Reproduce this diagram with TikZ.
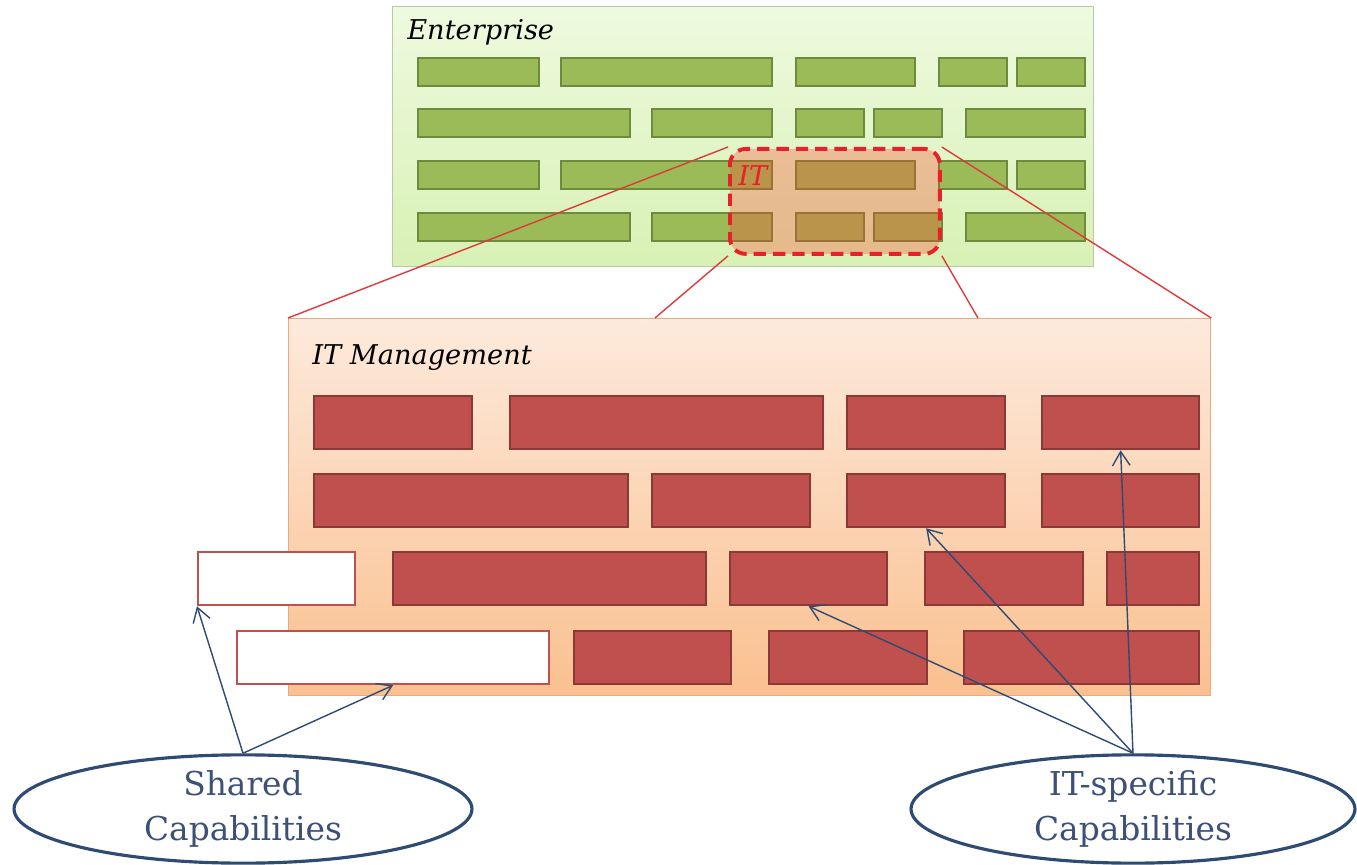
\documentclass[tikz,border=0pt]{standalone}
\usepackage{fontspec}
\setmainfont{DejaVu Serif}
\usepackage{tikz}
\usetikzlibrary{shapes.geometric,arrows.meta}

\definecolor{barGreen}{HTML}{9BBB59}
\definecolor{barGreenLine}{HTML}{6E8B3D}
\definecolor{barRed}{HTML}{C0504D}
\definecolor{barRedLine}{HTML}{8C3836}
\definecolor{entTop}{HTML}{EEFADF}
\definecolor{entBot}{HTML}{D8F1B5}
\definecolor{entLine}{HTML}{B8C8A8}
\definecolor{mgmtTop}{HTML}{FDEADC}
\definecolor{mgmtBot}{HTML}{FAC08F}
\definecolor{mgmtLine}{HTML}{EBA883}
\definecolor{zoomRed}{HTML}{E8202A}
\definecolor{zoomFill}{HTML}{FF3C28}
\definecolor{zoomLine}{HTML}{DD3B3B}
\definecolor{ellLine}{HTML}{2E4B74}
\definecolor{ellText}{HTML}{3C5078}

\begin{document}
\begin{tikzpicture}[x=0.02cm,y=-0.02cm,
    greenbar/.style={draw=barGreenLine, fill=barGreen, line width=1.1pt, inner sep=0pt, anchor=north west, minimum height=0.56cm},
    redbar/.style={draw=barRedLine, fill=barRed, line width=1.3pt, inner sep=0pt, anchor=north west, minimum height=1.06cm},
    sharedbar/.style={redbar, fill=white, draw=barRed},
    capell/.style={ellipse, draw=ellLine, line width=1.8pt, fill=white, inner sep=0pt, align=center, text=ellText, font=\fontsize{18.7}{25.5}\selectfont},
    capArrow/.style={draw=ellLine, line width=0.8pt, -{Straight Barb[length=8pt,width=10pt]}},
    zoomline/.style={draw=zoomLine, line width=0.8pt},
    layerlabel/.style={anchor=west, inner sep=0pt, font=\fontsize{15.5}{17}\selectfont\itshape}]

\useasboundingbox (0,0) rectangle (1357,865);

% Enterprise layer
\node[draw=entLine, line width=0.8pt, top color=entTop, bottom color=entBot, anchor=north west,
      minimum width=14.02cm, minimum height=5.2cm, inner sep=0pt] (ent) at (392,6) {};
\node[layerlabel] (entlabel) at (407,32) {Enterprise};

\foreach \ya in {57,160}
  \foreach \xa/\xb in {417/538,560/771,795/914,938/1006,1016/1084}
    \node[greenbar, minimum width={(\xb-\xa)*0.02cm}] (g-\ya-\xa) at (\xa,\ya) {};
\foreach \ya in {108,212}
  \foreach \xa/\xb in {417/629,651/771,795/863,873/941,965/1084}
    \node[greenbar, minimum width={(\xb-\xa)*0.02cm}] (g-\ya-\xa) at (\xa,\ya) {};

% IT part of the enterprise
\node[draw=zoomRed, line width=2.2pt, dash pattern=on 7pt off 4pt, rounded corners=9pt,
      fill=zoomFill, fill opacity=0.3, anchor=north west, minimum width=4.2cm, minimum height=2.1cm,
      inner sep=0pt] (itzone) at (728,147) {};
\node[layerlabel, text=zoomRed] (itlabel) at (738,176) {IT};

% IT management layer
\node[draw=mgmtLine, line width=0.8pt, top color=mgmtTop, bottom color=mgmtBot, anchor=north west,
      minimum width=18.44cm, minimum height=7.54cm, inner sep=0pt] (itmgmt) at (288,318) {};
\node[layerlabel] (mgmtlabel) at (312,358) {IT Management};

\coordinate (mg-l) at (655,318);
\coordinate (mg-r) at (978,318);
\draw[zoomline] (itzone.north west) -- (itmgmt.north west);
\draw[zoomline] (itzone.north east) -- (itmgmt.north east);
\draw[zoomline] (itzone.south west) -- (mg-l);
\draw[zoomline] (itzone.south east) -- (mg-r);

\foreach \xa/\xb/\ya/\nm in {313/471/395/ra1, 509/822/395/ra2, 846/1004/395/ra3, 1041/1198/395/ra4,
    313/627/473/rb1, 651/809/473/rb2, 846/1004/473/rb3, 1041/1198/473/rb4,
    392/705/551/rc1, 729/886/551/rc2, 924/1082/551/rc3, 1106/1198/551/rc4,
    573/730/630/rd1, 768/926/630/rd2, 963/1198/630/rd3}
  \node[redbar, minimum width={(\xb-\xa)*0.02cm}] (\nm) at (\xa,\ya) {};

% shared ones
\node[sharedbar, minimum width=3.14cm] (sh1) at (197,551) {};
\node[sharedbar, minimum width=6.24cm] (sh2) at (236,630) {};

% legends
\node[capell, minimum width=9.16cm, minimum height=1.92cm] (shared) at (243,809) {Shared\\Capabilities};
\node[capell, minimum width=8.88cm, minimum height=1.92cm] (itspec) at (1133,809) {IT-specific\\Capabilities};

\draw[capArrow] (shared.north) -- (sh1.south west);
\draw[capArrow] (shared.north) -- (sh2.south);
\draw[capArrow] (itspec.north) -- (rc2.south);
\draw[capArrow] (itspec.north) -- (rb3.south);
\draw[capArrow] (itspec.north) -- (ra4.south);
\end{tikzpicture}
\end{document}
